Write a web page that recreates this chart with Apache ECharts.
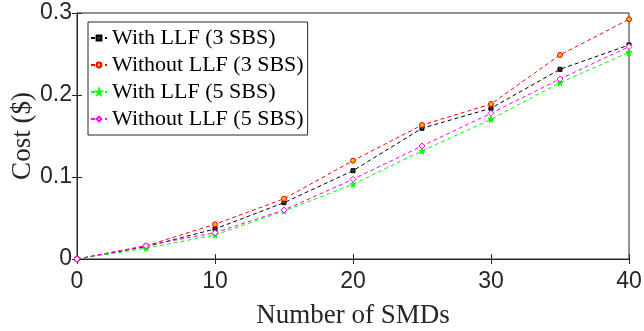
<!DOCTYPE html>
<html>
<head>
<meta charset="utf-8">
<script src="https://cdn.jsdelivr.net/npm/echarts@6/dist/echarts.min.js"></script>
<style>
  html, body { margin: 0; padding: 0; background: #fff; }
  #chart { width: 644px; height: 331px; }
</style>
</head>
<body>
<div id="chart"></div>
<script>
// Number of SMDs on the horizontal axis
const smds = [0, 5, 10, 15, 20, 25, 30, 35, 40];

// Cost ($) for each scenario
const withLLF3 = [0, 0.015, 0.0366, 0.0687, 0.1077, 0.1594, 0.1838, 0.2313, 0.261];
const withoutLLF3 = [0, 0.016, 0.0423, 0.0735, 0.1199, 0.1634, 0.189, 0.2488, 0.2923];
const withLLF5 = [0, 0.013, 0.0293, 0.0585, 0.0911, 0.1317, 0.1704, 0.215, 0.252];
const withoutLLF5 = [0, 0.0162, 0.0321, 0.0598, 0.0972, 0.1378, 0.1777, 0.2195, 0.259];

const seriesNames = ['With LLF (3 SBS)', 'Without LLF (3 SBS)', 'With LLF (5 SBS)', 'Without LLF (5 SBS)'];
const xTicks = [0, 10, 20, 30, 40];
const yTicks = [0, 0.1, 0.2, 0.3];

const starPath = 'path://M50,0 L61,35 L98,35 L68,57 L79,91 L50,70 L21,91 L32,57 L2,35 L39,35 Z';
const axisColor = '#262626';

function pairs(vals) {
  return smds.map((x, i) => [x, vals[i]]);
}

function lineSeries(name, vals, color, symbol, symbolSize, fill) {
  return {
    name: name,
    type: 'line',
    data: pairs(vals),
    symbol: symbol,
    symbolSize: symbolSize,
    showSymbol: true,
    lineStyle: { color: color, width: 1, type: [4, 3] },
    itemStyle: { color: fill, borderColor: color, borderWidth: 1 },
    emphasis: { disabled: true },
    animation: false
  };
}

const chart = echarts.init(document.getElementById('chart'), null, { renderer: 'canvas' });

const tickLabelFont = { fontFamily: 'Liberation Sans', fontSize: 23, color: axisColor };

chart.setOption({
  animation: false,
  backgroundColor: '#fff',
  grid: {
    left: 77, right: 15, top: 13, bottom: 72,
    containLabel: false,
    outerBoundsMode: 'none',
    show: true, borderColor: axisColor, borderWidth: 1
  },
  legend: {
    orient: 'vertical',
    left: 88,
    top: 22,
    data: seriesNames,
    itemWidth: 16,
    itemHeight: 6,
    itemGap: 5,
    padding: [5, 4, 5, 2],
    backgroundColor: '#fff',
    borderColor: axisColor,
    borderWidth: 1,
    textStyle: { fontFamily: 'Liberation Serif', fontSize: 22, color: '#000' },
    selectedMode: false
  },
  xAxis: [{
    type: 'value',
    min: 0, max: 40, interval: 10,
    name: 'Number of SMDs',
    nameLocation: 'middle',
    nameGap: 43,
    nameMoveOverlap: false,
    nameTextStyle: { fontFamily: 'Liberation Serif', fontSize: 27, color: axisColor },
    axisLine: { show: true, lineStyle: { color: axisColor } },
    axisTick: { show: true, inside: true, length: 5, lineStyle: { color: axisColor } },
    axisLabel: Object.assign({ margin: 11, formatter: v => xTicks.includes(v) ? String(v) : '' }, tickLabelFont),
    splitLine: { show: false }
  }, {
    type: 'value', position: 'top',
    min: 0, max: 40, interval: 10,
    axisLine: { show: true, lineStyle: { color: axisColor } },
    axisTick: { show: true, inside: true, length: 5, lineStyle: { color: axisColor } },
    axisLabel: { show: false },
    splitLine: { show: false }
  }],
  yAxis: [{
    type: 'value',
    min: 0, max: 0.3, interval: 0.1,
    name: 'Cost ($)',
    nameLocation: 'middle',
    nameGap: 41,
    nameMoveOverlap: false,
    nameTextStyle: { fontFamily: 'Liberation Serif', fontSize: 27, color: axisColor },
    axisLine: { show: true, lineStyle: { color: axisColor } },
    axisTick: { show: true, inside: true, length: 5, lineStyle: { color: axisColor } },
    axisLabel: Object.assign({ margin: 5, formatter: v => {
      const t = yTicks.find(y => Math.abs(y - v) < 1e-9);
      return t === undefined ? '' : String(t);
    } }, tickLabelFont),
    splitLine: { show: false }
  }, {
    type: 'value', position: 'right',
    min: 0, max: 0.3, interval: 0.1,
    axisLine: { show: true, lineStyle: { color: axisColor } },
    axisTick: { show: true, inside: true, length: 5, lineStyle: { color: axisColor } },
    axisLabel: { show: false },
    splitLine: { show: false }
  }],
  series: [
    lineSeries(seriesNames[0], withLLF3, '#000000', 'rect', 4, '#333333'),
    lineSeries(seriesNames[1], withoutLLF3, '#ff0000', 'circle', 5, '#ffb400'),
    lineSeries(seriesNames[2], withLLF5, '#00ff00', starPath, 6, '#00ff00'),
    lineSeries(seriesNames[3], withoutLLF5, '#ff00ff', 'diamond', 6, '#ffffff')
  ]
});
</script>
</body>
</html>
